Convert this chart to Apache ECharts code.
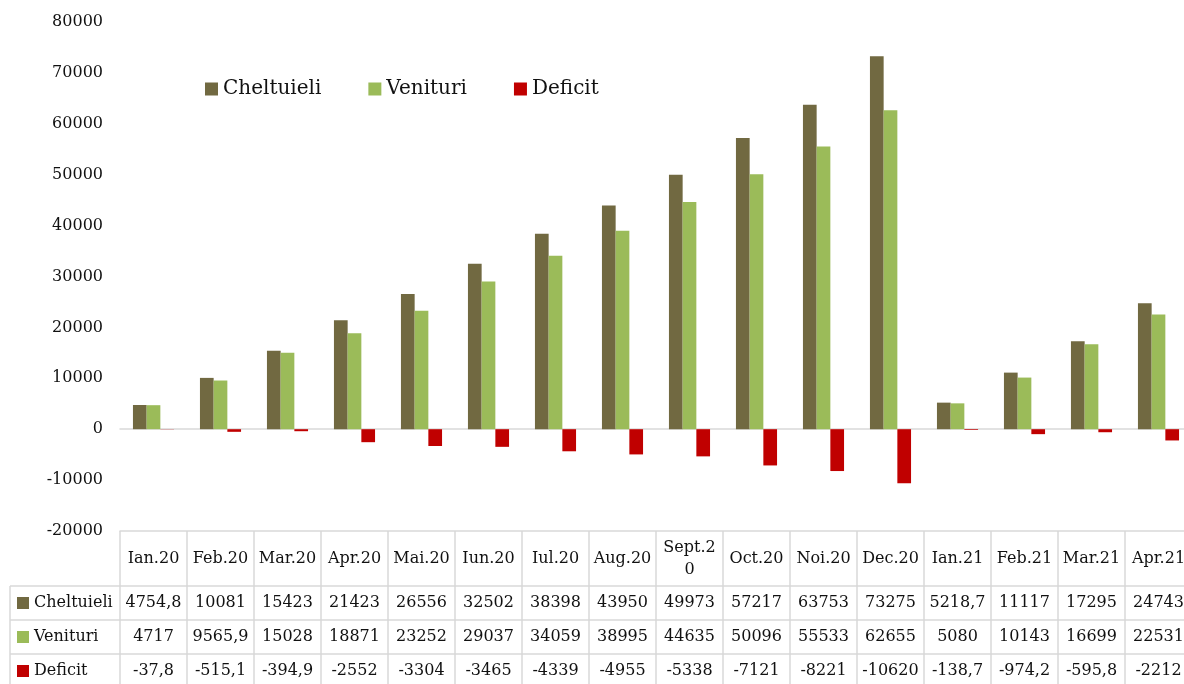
<!DOCTYPE html>
<html>
<head>
<meta charset="utf-8">
<script src="https://cdn.jsdelivr.net/npm/echarts@6/dist/echarts.min.js"></script>
<style>
  html, body { margin: 0; padding: 0; background: #fff; }
  #main { width: 1184px; height: 684px; }
</style>
</head>
<body>
<div id="main"></div>
<script>
// luni
var months = ['Ian.20', 'Feb.20', 'Mar.20', 'Apr.20', 'Mai.20', 'Iun.20', 'Iul.20', 'Aug.20',
  'Sept.20', 'Oct.20', 'Noi.20', 'Dec.20', 'Ian.21', 'Feb.21', 'Mar.21', 'Apr.21'];
var cheltuieli = [4754.8, 10081, 15423, 21423, 26556, 32502, 38398, 43950,
  49973, 57217, 63753, 73275, 5218.7, 11117, 17295, 24743];
var venituri = [4717, 9565.9, 15028, 18871, 23252, 29037, 34059, 38995,
  44635, 50096, 55533, 62655, 5080, 10143, 16699, 22531];
var deficit = [-37.8, -515.1, -394.9, -2552, -3304, -3465, -4339, -4955,
  -5338, -7121, -8221, -10620, -138.7, -974.2, -595.8, -2212];
var seriesNames = ['Cheltuieli', 'Venituri', 'Deficit'];
var colors = ['#716941', '#9bbb59', '#c00000'];

var FONT = 'DejaVu Serif';
var lineCol = '#d9d9d9';

function fmt(v) {
  return String(v).replace('.', ',');
}

// axa pentru un rand din tabel
function tableAxis(data, offset, tickLen, margin, extra) {
  var ax = {
    type: 'category',
    position: 'bottom',
    data: data,
    offset: offset,
    axisLine: { show: true, onZero: false, lineStyle: { color: lineCol, width: 1.5 } },
    axisTick: { show: true, interval: 0, length: tickLen, lineStyle: { color: lineCol, width: 1.5 } },
    axisLabel: {
      interval: 0, margin: margin, verticalAlign: 'middle',
      fontFamily: FONT, fontSize: 16, color: '#111'
    }
  };
  if (extra) {
    for (var k in extra) ax.axisLabel[k] = extra[k];
  }
  return ax;
}

var chart = echarts.init(document.getElementById('main'));

var rowY = [586, 620, 654];
var graphics = [];
// coloana din stanga a tabelului
graphics.push({ type: 'line', shape: { x1: 10, y1: 586, x2: 10, y2: 690 }, style: { stroke: lineCol, lineWidth: 1.5 } });
for (var i = 0; i < 3; i++) {
  graphics.push({ type: 'line', shape: { x1: 10, y1: rowY[i], x2: 120, y2: rowY[i] }, style: { stroke: lineCol, lineWidth: 1.5 } });
  graphics.push({ type: 'rect', shape: { x: 17, y: rowY[i] + 11, width: 12, height: 12 }, style: { fill: colors[i] } });
  graphics.push({ type: 'text', x: 34, y: rowY[i] + 17,
    style: { text: seriesNames[i], fontFamily: FONT, fontSize: 16, fill: '#111', verticalAlign: 'middle' } });
}

var option = {
  animation: false,
  color: colors,
  grid: { left: 120, width: 1072, top: 22, bottom: 153, outerBoundsMode: 'none' },
  legend: {
    data: seriesNames,
    left: 200, top: 74,
    icon: 'rect', itemWidth: 13, itemHeight: 13, itemGap: 47,
    textStyle: { fontFamily: FONT, fontSize: 20, color: '#111' }
  },
  xAxis: [
    {
      type: 'category', data: months, position: 'bottom',
      axisLine: { show: true, onZero: true, lineStyle: { color: lineCol, width: 1.5 } },
      axisTick: { show: false }, axisLabel: { show: false }
    },
    tableAxis(months, 0, 55, 27.5, { width: 60, overflow: 'breakAll', lineHeight: 22 }),
    tableAxis(cheltuieli.map(fmt), 55, 34, 17),
    tableAxis(venituri.map(fmt), 89, 34, 17),
    tableAxis(deficit.map(fmt), 123, 34, 17)
  ],
  yAxis: {
    type: 'value', min: -20000, max: 80000, interval: 10000,
    axisLine: { show: false }, axisTick: { show: false }, splitLine: { show: false },
    axisLabel: {
      fontFamily: FONT, fontSize: 16, color: '#111', margin: 17,
      formatter: function (v) { return String(v); }
    }
  },
  series: [
    { name: 'Cheltuieli', type: 'bar', data: cheltuieli, barWidth: 13.7, barGap: '0%' },
    { name: 'Venituri', type: 'bar', data: venituri, barWidth: 13.7, barGap: '0%' },
    { name: 'Deficit', type: 'bar', data: deficit, barWidth: 13.7, barGap: '0%' }
  ],
  graphic: graphics
};

chart.setOption(option);
</script>
</body>
</html>
